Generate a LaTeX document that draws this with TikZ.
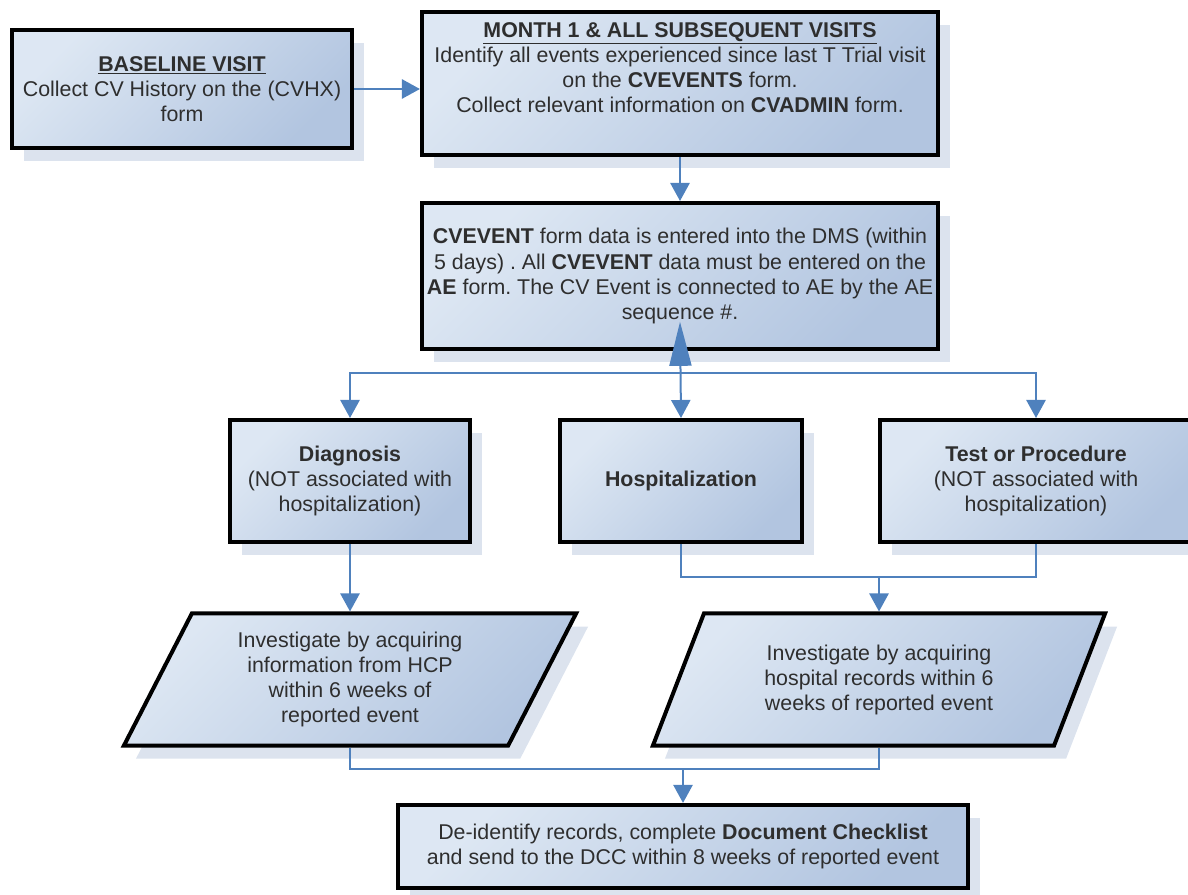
\documentclass[tikz,border=0pt]{standalone}
\usepackage{fontspec}
\setmainfont{Liberation Sans}
\usepackage{xcolor}
\usepackage{tikz}
\usetikzlibrary{arrows.meta,shapes.geometric,shadows}
\frenchspacing

\definecolor{boxlight}{HTML}{DDE7F3}
\definecolor{boxdark}{HTML}{B2C5E0}
\definecolor{shadowblue}{HTML}{DCE3EE}
\definecolor{arrowblue}{HTML}{4F81BD}
\definecolor{textgrey}{HTML}{2E2E2E}

\begin{document}
\begin{tikzpicture}[x=0.025cm, y=-0.025cm,
      stepbox/.style={draw=black, line width=0.1cm, rectangle, top color=boxlight, bottom color=boxdark, shading angle=45,
        drop shadow={shadow xshift=0.3cm, shadow yshift=-0.33cm, fill=shadowblue, opacity=1},
        align=center, inner sep=2pt, text=textgrey},
      iobox/.style={stepbox, trapezium, trapezium left angle=56, trapezium right angle=124,
        trapezium stretches body=true, minimum width=11.3cm, minimum height=3.3cm},
      wire/.style={draw=arrowblue, line width=0.05cm},
      link/.style={wire, -{Triangle[length=0.45cm, width=0.48cm]}},
      every node/.style={font=\fontsize{15.2}{17.8}\selectfont}
    ]
      \useasboundingbox (0,0) rectangle (1188,894);

      \node[stepbox, minimum width=8.5cm, minimum height=2.95cm] (base) at (182,89)
        {\underline{\textbf{BASELINE VISIT}}\\ Collect CV History on the (CVHX)\\ form};
      \node[stepbox, minimum width=12.9cm, minimum height=3.575cm] (month) at (680,83.5)
        {\underline{\textbf{MONTH 1 \& ALL SUBSEQUENT VISITS}}\\ Identify all events experienced since last T Trial visit\\ on the \textbf{CVEVENTS} form.\\ Collect relevant information on \textbf{CVADMIN} form.\\ \strut};
      \node[stepbox, minimum width=12.9cm, minimum height=3.65cm] (cvevent) at (680,276)
        {\textbf{CVEVENT} form data is entered into the DMS (within\\ 5 days) . All \textbf{CVEVENT} data must be entered on the\\ \textbf{AE} form. The CV Event is connected to AE by the AE\\ sequence \#.};

      \node[stepbox, minimum width=6cm, minimum height=3.05cm] (diag) at (350,481)
        {\textbf{Diagnosis}\\ (NOT associated with\\ hospitalization)};
      \node[stepbox, minimum width=6.05cm, minimum height=3.05cm] (hosp) at (681,481)
        {\textbf{Hospitalization}};
      \node[stepbox, minimum width=7.8cm, minimum height=3.05cm] (test) at (1036,481)
        {\textbf{Test or Procedure}\\ (NOT associated with\\ hospitalization)};

      \node[iobox] (invhcp) at (350,679.5)
        {Investigate by acquiring\\ information from HCP\\ within 6 weeks of\\ reported event};
      \node[iobox] (invhosp) at (879,679.5)
        {Investigate by acquiring\\ hospital records within 6\\ weeks of reported event};

      \node[stepbox, minimum width=14.25cm, minimum height=2.08cm] (final) at (683,846.5)
        {De-identify records, complete \textbf{Document Checklist}\\ and send to the DCC within 8 weeks of reported event};

      % visits
      \draw[link] (base.east) -- (base.east -| month.west);
      \draw[link] (month.south) -- (cvevent.north);

      % split into the three kinds of event
      \coordinate (split) at (680,373);
      \draw[link] (split) -| (diag.north);
      \draw[link] (split) -| (test.north);
      \draw[wire, {Triangle[length=1.1cm, width=0.55cm]}-{Triangle[length=0.45cm, width=0.48cm]}]
        ([yshift=0.73cm]cvevent.south) -- (hosp.north);

      % investigation
      \coordinate (join1) at (879,577);
      \draw[link] (diag.south) -- (invhcp.center |- invhcp.north);
      \draw[wire] (hosp.south) |- (join1) -| (test.south);
      \draw[link] (join1) -- (invhosp.center |- invhosp.north);

      % records to the DCC
      \coordinate (join2) at (683,769);
      \draw[wire] (invhcp.center |- invhcp.south) |- (join2) -| (invhosp.center |- invhosp.south);
      \draw[link] (join2) -- (final.north);
    \end{tikzpicture}
\end{document}
